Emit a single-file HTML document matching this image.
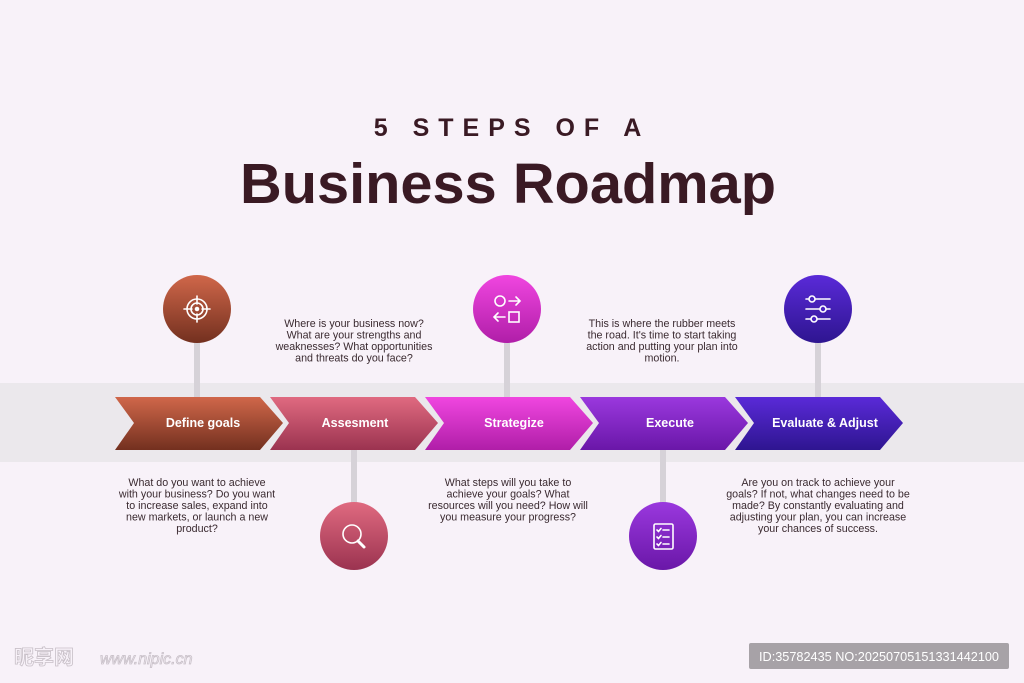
<!DOCTYPE html>
<html><head><meta charset="utf-8"><style>
html,body{margin:0;padding:0;background:#f8f2f9;}
svg{display:block}
</style></head><body>
<svg width="1024" height="683" viewBox="0 0 1024 683" xmlns="http://www.w3.org/2000/svg" font-family="Liberation Sans, sans-serif">
<defs>
<linearGradient id="g1" x1="0" y1="0" x2="0" y2="1"><stop offset="0" stop-color="#d0674a"/><stop offset="1" stop-color="#73301f"/></linearGradient>
<linearGradient id="g2" x1="0" y1="0" x2="0" y2="1"><stop offset="0" stop-color="#e06a80"/><stop offset="1" stop-color="#9b3350"/></linearGradient>
<linearGradient id="g3" x1="0" y1="0" x2="0" y2="1"><stop offset="0" stop-color="#f046e0"/><stop offset="1" stop-color="#b01ea8"/></linearGradient>
<linearGradient id="g4" x1="0" y1="0" x2="0" y2="1"><stop offset="0" stop-color="#9a38de"/><stop offset="1" stop-color="#6a17a8"/></linearGradient>
<linearGradient id="g5" x1="0" y1="0" x2="0" y2="1"><stop offset="0" stop-color="#5a2ad8"/><stop offset="1" stop-color="#2e1590"/></linearGradient>
</defs>
<rect x="0" y="383" width="1024" height="79" fill="#ebe8ec"/>
<text x="512" y="136" text-anchor="middle" font-size="25" font-weight="bold" fill="#3a1a24" letter-spacing="9">5 STEPS OF A</text>
<text x="508" y="203" text-anchor="middle" font-size="57" font-weight="bold" fill="#3a1a24" textLength="536" lengthAdjust="spacingAndGlyphs">Business Roadmap</text>
<g fill="#d6d2d8">
<rect x="194" y="340" width="6" height="58"/>
<rect x="351" y="449" width="6" height="56"/>
<rect x="504" y="340" width="6" height="58"/>
<rect x="660" y="449" width="6" height="56"/>
<rect x="815" y="340" width="6" height="58"/>
</g>
<g stroke-linejoin="round">
<path d="M115 397 L260 397 L283 423 L260 450 L115 450 L134 423 Z" fill="url(#g1)"/>
<path d="M270 397 L415 397 L438 423 L415 450 L270 450 L289 423 Z" fill="url(#g2)"/>
<path d="M425 397 L570 397 L593 423 L570 450 L425 450 L444 423 Z" fill="url(#g3)"/>
<path d="M580 397 L725 397 L748 423 L725 450 L580 450 L599 423 Z" fill="url(#g4)"/>
<path d="M735 397 L880 397 L903 423 L880 450 L735 450 L754 423 Z" fill="url(#g5)"/>
</g>
<g font-size="12.5" font-weight="bold" fill="#fff" text-anchor="middle">
<text x="203" y="427">Define goals</text>
<text x="355" y="427">Assesment</text>
<text x="514" y="427">Strategize</text>
<text x="670" y="427">Execute</text>
<text x="825" y="427">Evaluate &amp; Adjust</text>
</g>
<circle cx="197" cy="309" r="34" fill="url(#g1)"/>
<circle cx="354" cy="536" r="34" fill="url(#g2)"/>
<circle cx="507" cy="309" r="34" fill="url(#g3)"/>
<circle cx="663" cy="536" r="34" fill="url(#g4)"/>
<circle cx="818" cy="309" r="34" fill="url(#g5)"/>
<g stroke="#fff" stroke-width="1.6" fill="none" stroke-linecap="round">
<circle cx="197" cy="309" r="10"/><circle cx="197" cy="309" r="6"/><circle cx="197" cy="309" r="1.5" fill="#fff"/>
<line x1="197" y1="296" x2="197" y2="304"/><line x1="197" y1="314" x2="197" y2="322"/><line x1="184" y1="309" x2="192" y2="309"/><line x1="202" y1="309" x2="210" y2="309"/>
<circle cx="352" cy="534" r="9"/><line x1="358" y1="541" x2="364" y2="547" stroke-width="3"/>
<circle cx="500" cy="301" r="5"/><path d="M509 301 H520 M516 297 L520 301 L516 305"/><path d="M494 317 H505 M498 313 L494 317 L498 321"/><rect x="509" y="312" width="10" height="10"/>
<rect x="654" y="524" width="19" height="25" rx="1.5"/><path d="M657 530 l1.5 1.5 l2.5 -3 M663 530 H669 M657 537 l1.5 1.5 l2.5 -3 M663 537 H669 M657 544 l1.5 1.5 l2.5 -3 M663 544 H669"/>
<path d="M806 299 H830 M806 309 H830 M806 319 H830"/>
<circle cx="812" cy="299" r="3" fill="#4a22c0"/><circle cx="823" cy="309" r="3" fill="#4a22c0"/><circle cx="814" cy="319" r="3" fill="#4a22c0"/>
</g>
<g font-size="10.7" fill="#3a2a30" text-anchor="middle">
<text x="354" y="327">Where is your business now?</text>
<text x="354" y="338.5">What are your strengths and</text>
<text x="354" y="350">weaknesses? What opportunities</text>
<text x="354" y="361.5">and threats do you face?</text>
<text x="662" y="327">This is where the rubber meets</text>
<text x="662" y="338.5">the road. It's time to start taking</text>
<text x="662" y="350">action and putting your plan into</text>
<text x="662" y="361.5">motion.</text>
<text x="197" y="486">What do you want to achieve</text>
<text x="197" y="497.5">with your business? Do you want</text>
<text x="197" y="509">to increase sales, expand into</text>
<text x="197" y="520.5">new markets, or launch a new</text>
<text x="197" y="532">product?</text>
<text x="508" y="486">What steps will you take to</text>
<text x="508" y="497.5">achieve your goals? What</text>
<text x="508" y="509">resources will you need? How will</text>
<text x="508" y="520.5">you measure your progress?</text>
<text x="818" y="486">Are you on track to achieve your</text>
<text x="818" y="497.5">goals? If not, what changes need to be</text>
<text x="818" y="509">made? By constantly evaluating and</text>
<text x="818" y="520.5">adjusting your plan, you can increase</text>
<text x="818" y="532">your chances of success.</text>
</g>
<text x="14" y="664" font-size="20" font-weight="bold" fill="none" stroke="#c8c0c8" stroke-width="0.8" font-family="Liberation Sans, Noto Sans CJK SC, sans-serif">昵享网</text>
<text x="100" y="664" font-size="16" font-style="italic" fill="none" stroke="#c8c0c8" stroke-width="0.8">www.nipic.cn</text>
<rect x="749" y="643" width="260" height="26" rx="2" fill="#a7a2a7"/>
<text x="879" y="661" text-anchor="middle" font-size="13" fill="#fff" textLength="240" lengthAdjust="spacingAndGlyphs">ID:35782435 NO:20250705151331442100</text>
</svg>
</body></html>
